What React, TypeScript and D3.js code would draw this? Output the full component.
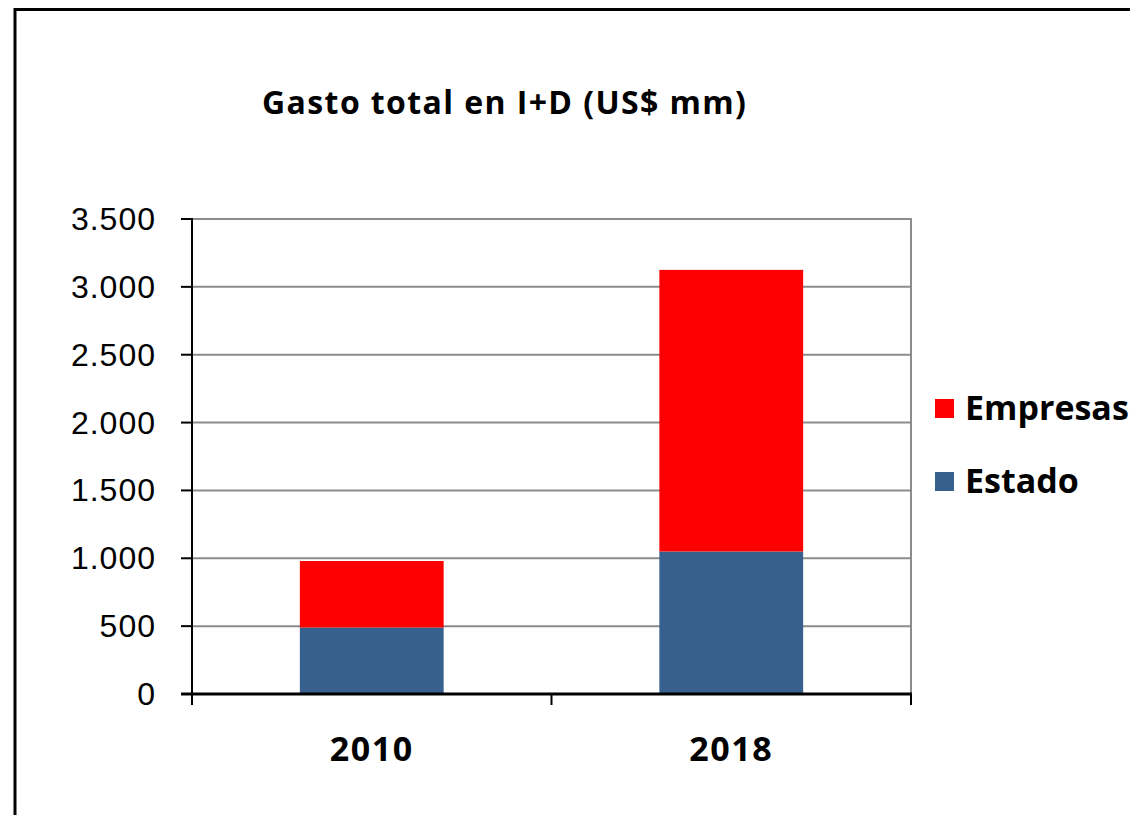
import * as d3 from 'd3';
import React from 'react';

const years = ['2010', '2018'];
const estado = [490, 1050];
const empresas = [490, 2075];
const yTicks = [0, 500, 1000, 1500, 2000, 2500, 3000, 3500];
const seriesNames = ['Estado', 'Empresas'];
const seriesColors = ['#37608f', '#ff0000'];

const W = 1130;
const H = 815;
const left = 192;
const right = 911;
const top = 219;
const bottom = 694;

const fmt = (v: number) => d3.format(',')(v).replace(/,/g, '.');

export default function App() {
    const rows = years.map((y, i) => ({ year: y, Estado: estado[i], Empresas: empresas[i] }));
    const stacked = d3.stack<any>().keys(seriesNames)(rows);

    const x = d3.scaleBand<string>().domain(years).range([left, right]).paddingInner(0).paddingOuter(0);
    const y = d3.scaleLinear().domain([0, 3500]).range([bottom, top]);
    const barW = x.bandwidth() * 0.4;

    const font = 'Liberation Sans, Arial, sans-serif';
    const boldFont = 'Open Sans, sans-serif';

    return (
        <svg width={W} height={H} style={{ position: 'absolute', left: 0, top: 0, background: '#fff' }}>
            {/* outer frame, only left and top visible */}
            <rect x={15} y={9.5} width={W + 20} height={H + 20} fill="none" stroke="#000" strokeWidth={3} />

            <text x={262} y={114} fontFamily={boldFont} fontWeight={700} fontSize={32} letterSpacing={1.4} fill="#000">
                Gasto total en I+D (US$ mm)
            </text>

            {/* grid */}
            {yTicks.filter((t) => t > 0).map((t) => (
                <line key={t} x1={left} x2={right} y1={y(t)} y2={y(t)} stroke="#8c8c8c" strokeWidth={2} />
            ))}
            <line x1={right} x2={right} y1={top - 1} y2={bottom} stroke="#8c8c8c" strokeWidth={2} />

            {/* bars */}
            {stacked.map((s, si) => (
                <g key={s.key}>
                    {s.map((d, i) => (
                        <rect
                            key={i}
                            x={(x(years[i]) ?? 0) + (x.bandwidth() - barW) / 2}
                            y={y(d[1])}
                            width={barW}
                            height={y(d[0]) - y(d[1])}
                            fill={seriesColors[si]}
                        />
                    ))}
                </g>
            ))}

            {/* y axis */}
            <line x1={left} x2={left} y1={top - 1} y2={bottom + 11} stroke="#000" strokeWidth={2} />
            {yTicks.map((t) => (
                <g key={t}>
                    <line x1={left - 11} x2={left} y1={y(t)} y2={y(t)} stroke="#000" strokeWidth={2} />
                    <text x={156} y={y(t) + 11} textAnchor="end" fontFamily={font} fontSize={32} letterSpacing={1} fill="#000">
                        {fmt(t)}
                    </text>
                </g>
            ))}

            {/* x axis */}
            <line x1={left - 11} x2={right + 1} y1={bottom} y2={bottom} stroke="#000" strokeWidth={3} />
            {[left, ...years.map((yr) => (x(yr) ?? 0) + x.bandwidth())].map((px, i) => (
                <line key={i} x1={px} x2={px} y1={bottom} y2={bottom + 11} stroke="#000" strokeWidth={2} />
            ))}
            {years.map((yr) => (
                <text
                    key={yr}
                    x={(x(yr) ?? 0) + x.bandwidth() / 2}
                    y={761}
                    textAnchor="middle"
                    fontFamily={boldFont}
                    fontWeight={700}
                    fontSize={34}
                    letterSpacing={1.5}
                    fill="#000"
                >
                    {yr}
                </text>
            ))}

            {/* legend */}
            {['Empresas', 'Estado'].map((name, i) => (
                <g key={name} transform={`translate(935,${399 + i * 73})`}>
                    <rect width={19} height={19} fill={seriesColors[seriesNames.indexOf(name)]} />
                    <text x={30} y={21} fontFamily={boldFont} fontWeight={700} fontSize={34} fill="#000">
                        {name}
                    </text>
                </g>
            ))}
        </svg>
    );
}
